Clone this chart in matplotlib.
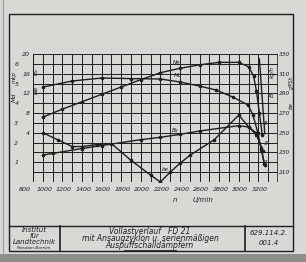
import matplotlib
matplotlib.use("Agg")
import numpy as np
import matplotlib.pyplot as plt
from matplotlib.patches import Rectangle
from matplotlib.transforms import blended_transform_factory

plt.rcParams['font.family'] = ['Liberation Sans Narrow', 'DejaVu Sans']
plt.rcParams['font.style'] = 'italic'

# Vollastkurven (n in U/min)
n_ne = [1000, 1200, 1400, 1600, 1800, 2000, 2200, 2400, 2600, 2800, 3000, 3100, 3150, 3180, 3210, 3240]
ne = [7.2, 8.8, 10.3, 11.8, 13.3, 14.8, 16.2, 17.1, 17.8, 18.3, 18.3, 17.4, 15.6, 12.5, 8.0, 3.5]

n_md = [1000, 1300, 1600, 1900, 2200, 2400, 2600, 2770, 2940, 3095, 3145, 3195, 3230, 3265]
md = [4.82, 5.13, 5.28, 5.25, 5.23, 5.08, 4.87, 4.67, 4.31, 3.91, 3.40, 2.49, 1.62, 0.86]

n_be = [1000, 1150, 1300, 1400, 1550, 1700, 1900, 2100, 2200, 2300, 2400, 2500, 2750, 3000, 3100, 3180, 3250]
be = [250, 243, 236, 236, 238, 239, 222, 207, 200, 210, 219, 227, 243, 268, 256, 248, 231]

n_b = [1000, 1100, 1400, 1600, 2000, 2200, 2400, 2600, 3000, 3100, 3180, 3230, 3260]
b = [1.74, 1.90, 2.40, 2.70, 3.30, 3.54, 3.84, 4.18, 4.72, 4.58, 3.97, 2.45, 0.80]

n_regler = [3210, 3265]
ne_regler = [19.0, 3.8]

x_labels = [800, 1000, 1200, 1400, 1600, 1800, 2000, 2200, 2400, 2600, 2800, 3000, 3200]
md_ticks = [1, 2, 3, 4, 5, 6]
ne_ticks = [4, 8, 12, 16, 20]
b_ticks = [1, 3, 5]
be_ticks = [210, 230, 250, 270, 290, 310, 330]

ink = '#1e1e1e'
bg = '#d8d8d5'

W, H = 306, 262
fig = plt.figure(figsize=(3.06, 2.62), dpi=100, facecolor=bg)

# Zeichenblatt (Pixelkoordinaten)
paper = fig.add_axes([0, 0, 1, 1])
paper.set_xlim(0, W)
paper.set_ylim(H, 0)
paper.axis('off')
paper.add_patch(Rectangle((9, 14), 284, 237, fill=False, lw=1.0, ec=ink))
paper.plot([9, 293], [226, 226], color=ink, lw=1.0)
paper.plot([60, 60], [226, 251], color=ink, lw=1.2)
paper.plot([245, 245], [226, 251], color=ink, lw=1.2)
paper.add_patch(Rectangle((0, 254), W, 8, color='#8e8e8c', lw=0))
paper.plot([3, 3], [0, 254], color='#9a9a98', lw=0.8)

tb = dict(color=ink, ha='center', va='center')
paper.text(34.5, 230.5, 'Institut', fontsize=5, **tb)
paper.text(34.5, 236, 'für', fontsize=5, **tb)
paper.text(34.5, 242, 'Landtechnik', fontsize=5, **tb)
paper.text(34.5, 248, 'Potsdam-Bornim', fontsize=3, **tb)
paper.text(150, 231, 'Vollastverlauf   FD 21', fontsize=5.5, **tb)
paper.text(150, 238.5, 'mit Ansaugzyklon u. serienmäßigen', fontsize=5.5, **tb)
paper.text(150, 246, 'Auspuffschalldämpfern', fontsize=5.5, **tb)
paper.plot([124, 176], [249.5, 249.5], color=ink, lw=0.6)
paper.text(269, 233, '629.114.2.', fontsize=5, **tb)
paper.text(269, 243, '001.4', fontsize=5, **tb)

# Diagramm
gx0, gx1, gy0, gy1 = 33, 278, 54, 182
ax = fig.add_axes([gx0 / W, (H - gy1) / H, (gx1 - gx0) / W, (gy1 - gy0) / H])
ax.set_xlim(900, 3400)
ax.set_ylim(0, 6.5)
ax.patch.set_alpha(0)
for s in ax.spines.values():
    s.set_visible(False)
ax.vlines(np.arange(900, 3401, 100), 0, 6.5, color=ink, lw=0.7)
ax.hlines(np.arange(0, 6.51, 0.5), 900, 3400, color=ink, lw=0.7)
ax.vlines([900, 3400], 0, 6.5, color=ink, lw=1.1)
ax.set_xticks([])
ax.set_yticks(md_ticks)
ax.set_yticklabels([str(v) for v in md_ticks])
ax.tick_params(axis='y', length=0, pad=10.5, labelsize=4.5, colors=ink)

ax_ne = ax.twinx()
ax_ne.set_ylim(-6, 20)
ax_ne.yaxis.tick_left()
ax_ne.set_yticks(ne_ticks)
ax_ne.tick_params(axis='y', length=0, pad=2, labelsize=4.5, colors=ink)

ax_b = ax.twinx()
ax_b.set_ylim(-1, 12)
ax_b.set_yticks(b_ticks)
ax_b.tick_params(axis='y', length=0, pad=-10, labelsize=4.5, colors=ink)

ax_be = ax.twinx()
ax_be.set_ylim(200, 330)
ax_be.set_yticks(be_ticks)
ax_be.tick_params(axis='y', length=0, pad=0.8, labelsize=4.2, colors=ink)

for a in (ax_ne, ax_b, ax_be):
    for s in a.spines.values():
        s.set_visible(False)
    a.set_xticks([])

lk = dict(color=ink, lw=1.0, marker='o', ms=1.6, mfc=ink, mec=ink)
ax_ne.plot(n_ne, ne, **lk)
ax.plot(n_md, md, **lk)
ax_be.plot(n_be, be, **lk)
ax_b.plot(n_b, b, **lk)
ax_ne.plot(n_regler, ne_regler, color=ink, lw=1.0)

ax_ne.text(2330, 18.0, 'Ne', fontsize=4, color=ink)
ax.text(2340, 5.32, 'Md', fontsize=4, color=ink)
ax_b.text(2320, 4.1, 'Bs', fontsize=4, color=ink)
ax_be.text(2210, 211, 'be', fontsize=4, color=ink)

# x-Beschriftung
tr = blended_transform_factory(ax.transData, ax.transAxes)
for v in x_labels:
    ax.text(v + 15, -0.04, str(v), transform=tr, ha='center', va='top',
            fontsize=4.5, color=ink, clip_on=False)
ax.text(2350, -0.12, 'n', transform=tr, ha='center', va='top', fontsize=5, color=ink)
ax.text(2630, -0.12, 'U/min', transform=tr, ha='center', va='top', fontsize=5, color=ink)

# Einheiten
ax.text(-0.075, 0.82, 'mkp', transform=ax.transAxes, rotation=90, fontsize=4,
        ha='center', va='center', color=ink)
ax.text(-0.075, 0.66, 'Md', transform=ax.transAxes, rotation=90, fontsize=4.5,
        ha='center', va='center', color=ink)
ax.text(0.012, 0.86, 'PS', transform=ax.transAxes, rotation=90, fontsize=4,
        ha='center', va='center', color=ink)
ax.text(0.012, 0.72, 'Ne', transform=ax.transAxes, rotation=90, fontsize=4.5,
        ha='center', va='center', color=ink)
ax.text(0.975, 0.86, 'kg/h', transform=ax.transAxes, rotation=90, fontsize=4,
        ha='center', va='center', color=ink)
ax.text(0.975, 0.68, 'B', transform=ax.transAxes, rotation=90, fontsize=4.5,
        ha='center', va='center', color=ink)
ax.text(1.0555, 0.78, 'g/PSh', transform=ax.transAxes, rotation=90, fontsize=3.4,
        ha='center', va='center', color=ink)
ax.text(1.0555, 0.60, 'be', transform=ax.transAxes, rotation=90, fontsize=4,
        ha='center', va='center', color=ink)

fig.savefig('out.png', dpi=100, facecolor=bg)
